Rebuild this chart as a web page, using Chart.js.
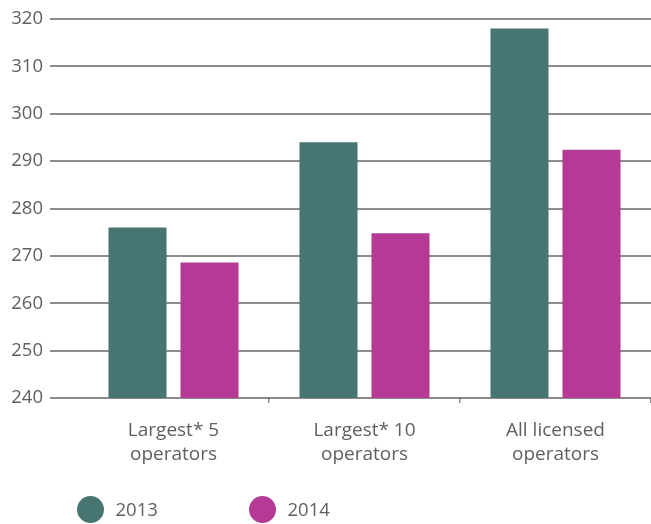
<!DOCTYPE html>
<html>
<head>
<meta charset="utf-8">
<script src="https://cdn.jsdelivr.net/npm/chart.js@4.4.1/dist/chart.umd.min.js"></script>
<style>
  html, body { margin: 0; padding: 0; background: #fff; }
  #wrap { width: 651px; height: 524px; }
</style>
</head>
<body>
<div id="wrap"><canvas id="chart"></canvas></div>
<script>
const categories = [
  ['Largest* 5', 'operators'],
  ['Largest* 10', 'operators'],
  ['All licensed', 'operators']
];
const seriesNames = ['2013', '2014'];
const values2013 = [276, 294, 318];
const values2014 = [268.6, 274.8, 292.4];
const yTicks = { min: 240, max: 320, step: 10 };

const TEAL = '#477572';
const MAGENTA = '#b53a95';
const GRID = 'rgba(70,70,70,0.62)';
const TEXT = '#606060';
const FONT = "'Open Sans', sans-serif";

// legend drawn by hand so the spacing matches the original
const circleLegend = {
  id: 'circleLegend',
  afterDraw(chart) {
    const ctx = chart.ctx;
    const slots = [90.5, 262.5];
    ctx.save();
    ctx.font = '18.5px ' + FONT;
    ctx.textBaseline = 'middle';
    chart.data.datasets.forEach((ds, i) => {
      const cx = slots[i], cy = 509.5;
      ctx.beginPath();
      ctx.arc(cx, cy, 13.5, 0, Math.PI * 2);
      ctx.fillStyle = ds.backgroundColor;
      ctx.fill();
      ctx.fillStyle = TEXT;
      ctx.fillText(ds.label, cx + 25, cy + 1);
    });
    ctx.restore();
  }
};

new Chart(document.getElementById('chart'), {
  type: 'bar',
  data: {
    labels: categories,
    datasets: [
      { label: seriesNames[0], data: values2013, backgroundColor: TEAL },
      { label: seriesNames[1], data: values2014, backgroundColor: MAGENTA }
    ]
  },
  options: {
    responsive: true,
    maintainAspectRatio: false,
    animation: false,
    layout: { padding: { top: 19, bottom: 46, left: 0, right: 0 } },
    datasets: {
      bar: { categoryPercentage: 0.754, barPercentage: 0.806 }
    },
    plugins: {
      legend: { display: false },
      tooltip: { enabled: false }
    },
    scales: {
      x: {
        border: { display: false },
        grid: {
          drawOnChartArea: false,
          tickLength: 5,
          lineWidth: 1.5,
          color: c => c.index === 0 ? 'transparent' : GRID
        },
        ticks: {
          color: TEXT,
          padding: 15,
          font: { family: FONT, size: 19, lineHeight: 1.28 }
        },
        afterFit: s => { s.height = 80; }
      },
      y: {
        z: 1,
        min: yTicks.min,
        max: yTicks.max,
        border: { display: false },
        grid: {
          color: GRID,
          lineWidth: 2,
          tickLength: 28
        },
        ticks: {
          stepSize: yTicks.step,
          color: TEXT,
          padding: 7,
          font: { family: FONT, size: 18.5 }
        },
        afterFit: s => { s.width = 78; }
      }
    }
  },
  plugins: [circleLegend]
});
</script>
</body>
</html>
